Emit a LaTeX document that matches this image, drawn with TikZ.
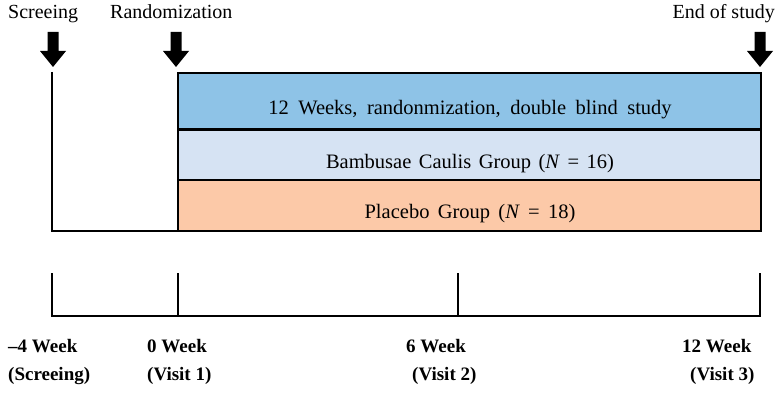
\documentclass[tikz,border=0pt]{standalone}
\usepackage{fontspec}
\setmainfont{Liberation Serif}
\definecolor{bandA}{RGB}{142,195,231}
\definecolor{bandB}{RGB}{214,227,243}
\definecolor{bandC}{RGB}{252,201,168}
\tikzset{
  band/.style={draw=black, line width=2.8pt, minimum width=583pt, outer sep=0pt, inner sep=0pt, anchor=north west},
  toplabel/.style={font=\fontsize{20}{24}\selectfont, inner sep=0pt},
  weeklabel/.style={font=\fontsize{19}{23}\selectfont\bfseries, inner sep=0pt, anchor=base west},
  boxtext/.style={font=\fontsize{20.5}{24}\selectfont, inner sep=0pt, anchor=base},
  axisline/.style={line width=2.8pt},
  downarrow/.pic={\fill[black] (-5.5,0) -- (5.5,0) -- (5.5,19) -- (13,19) -- (0,35) -- (-13,19) -- (-5.5,19) -- cycle;}
}
\begin{document}
\begin{tikzpicture}[x=1pt,y=-1pt]
\useasboundingbox (0,0) rectangle (781,401);

% top labels
\node[toplabel, anchor=base west] (lscr) at (8,18.5) {Screeing};
\node[toplabel, anchor=base west] (lrand) at (110,18.5) {Randomization};
\node[toplabel, anchor=base east] (lend) at (775,18.5) {End of study};

% arrows
\pic at (53,32) {downarrow};
\pic at (176,32) {downarrow};
\pic at (760,32) {downarrow};

% bands
\node[band, fill=bandA, minimum height=56.5pt] (b1) at (178,73) {};
\node[band, fill=bandB, minimum height=50.5pt] (b2) at (178,129.5) {};
\node[band, fill=bandC, minimum height=51pt] (b3) at (178,180) {};

\node[boxtext] (t1) at (470,115) {\spaceskip=9.5pt 12 Weeks, randonmization, double blind study};
\node[boxtext] (t2) at (470,168) {\spaceskip=7.5pt Bambusae Caulis Group (\textit{N} = 16)};
\node[boxtext] (t3) at (470,218) {\spaceskip=8.3pt Placebo Group (\textit{N} = 18)};

% screening L line
\coordinate (s0) at (52,72);
\draw[axisline] (s0) |- (b3.south west);

% timeline
\coordinate (k0) at (52,273);
\coordinate (k1) at (178,273);
\coordinate (k2) at (458,273);
\coordinate (k3) at (760,273);
\coordinate (m0) at (52,316);
\coordinate (m1) at (178,316);
\coordinate (m2) at (458,316);
\coordinate (m3) at (760,316);
\draw[axisline] (k0) -- (m0) -- (m3) -- (k3);
\draw[axisline] (k1) -- (m1);
\draw[axisline] (k2) -- (m2);

% bottom labels
\node[weeklabel] (w0) at (8,352) {\textendash4 Week};
\node[weeklabel] (v0) at (8,380) {(Screeing)};
\node[weeklabel] (w1) at (147,352) {0 Week};
\node[weeklabel] (v1) at (147,380) {(Visit 1)};
\node[weeklabel] (w2) at (406,352) {6 Week};
\node[weeklabel] (v2) at (412,380) {(Visit 2)};
\node[weeklabel] (w3) at (682,352) {12 Week};
\node[weeklabel] (v3) at (690,380) {(Visit 3)};
\end{tikzpicture}
\end{document}
